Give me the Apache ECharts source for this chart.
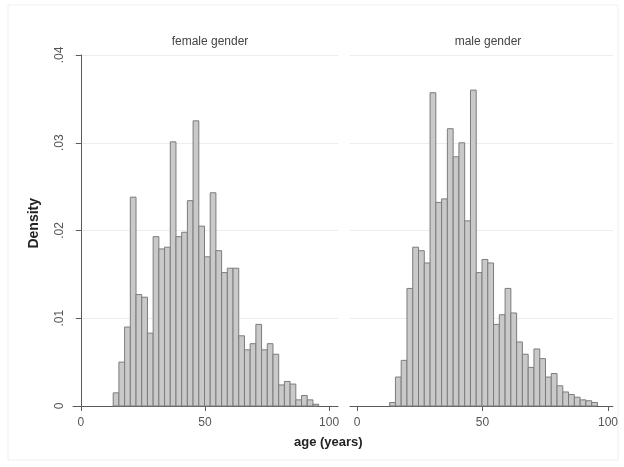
<!DOCTYPE html>
<html>
  <head>
    <meta charset="utf-8" />
    <script src="https://cdn.jsdelivr.net/npm/echarts@6.0.0/dist/echarts.min.js"></script>
  </head>
  <body style="margin: 0">
    <div id="main" style="width: 624px; height: 467px"></div>

    <script type="text/javascript">
      // histogram bins: 36 bins starting at age 13, width 2.3
      const binStart = 13;
      const binWidth = 2.3;
      const panelTitles = ["female gender", "male gender"];
      const xTicks = [0, 50, 100];

      const femaleDensity = [
        0.0015, 0.005, 0.009, 0.0238, 0.0127, 0.0124, 0.0083, 0.0193, 0.0179,
        0.0181, 0.0301, 0.0193, 0.0198, 0.0234, 0.0325, 0.0205, 0.017, 0.0243,
        0.0177, 0.0152, 0.0157, 0.0157, 0.008, 0.0064, 0.0071, 0.0093, 0.0064,
        0.0071, 0.0059, 0.0024, 0.0028, 0.0025, 0.0007, 0.0012, 0.0007, 0.0002,
      ];
      const maleDensity = [
        0.0004, 0.0033, 0.0052, 0.0134, 0.0181, 0.0177, 0.0163, 0.0357, 0.0232,
        0.0236, 0.0316, 0.0284, 0.03, 0.0211, 0.036, 0.0152, 0.0167, 0.0163,
        0.0093, 0.0104, 0.0134, 0.0106, 0.0073, 0.0059, 0.0044, 0.0065, 0.0054,
        0.0033, 0.0037, 0.0023, 0.0016, 0.0013, 0.001, 0.0007, 0.0006, 0.0004,
      ];

      function toBins(dens) {
        return dens.map((d, i) => [
          binStart + i * binWidth,
          binStart + (i + 1) * binWidth,
          d,
        ]);
      }

      function renderBar(params, api) {
        const a = api.coord([api.value(0), api.value(2)]);
        const b = api.coord([api.value(1), 0]);
        return {
          type: "rect",
          shape: { x: a[0], y: a[1], width: b[0] - a[0], height: b[1] - a[1] },
          style: { fill: "#c9c9c9", stroke: "#7c7c7c", lineWidth: 1 },
        };
      }

      const axisColor = "#5a5a5a";
      const font = "Liberation Sans";

      function xAxisFor(idx, min, max) {
        return {
          type: "value",
          gridIndex: idx,
          min: min,
          max: max,
          axisLine: { lineStyle: { color: axisColor, width: 1 } },
          axisTick: { customValues: xTicks, length: 5, lineStyle: { color: axisColor } },
          axisLabel: {
            customValues: xTicks,
            color: "#555",
            fontFamily: font,
            fontSize: 12,
            margin: 11,
          },
          splitLine: { show: false },
        };
      }

      function yAxisFor(idx, showAxis) {
        return {
          type: "value",
          gridIndex: idx,
          min: 0,
          max: 0.04,
          interval: 0.01,
          axisLine: { show: showAxis, lineStyle: { color: axisColor } },
          axisTick: { show: showAxis, length: 5, lineStyle: { color: axisColor } },
          axisLabel: {
            show: showAxis,
            rotate: 90,
            color: "#555",
            fontFamily: font,
            fontSize: 12,
            margin: 7,
            formatter: (v) => (v === 0 ? "0" : v.toFixed(2).replace(/^0/, "")),
          },
          splitLine: { show: true, lineStyle: { color: "#ededed", width: 1 } },
        };
      }

      var option = {
        backgroundColor: "#ffffff",
        animation: false,
        title: [
          {
            text: panelTitles[0],
            left: 205,
            top: 31,
            textAlign: "center",
            textStyle: { fontFamily: font, fontSize: 12, fontWeight: "normal", color: "#444" },
          },
          {
            text: panelTitles[1],
            left: 483,
            top: 31,
            textAlign: "center",
            textStyle: { fontFamily: font, fontSize: 12, fontWeight: "normal", color: "#444" },
          },
        ],
        graphic: [
          {
            type: "rect",
            shape: { x: 8, y: 5, width: 610, height: 455 },
            style: { fill: null, stroke: "#efefef", lineWidth: 1 },
            z: -1,
          },
          {
            type: "text",
            left: 27,
            top: 198,
            rotation: Math.PI / 2,
            style: {
              text: "Density",
              fontFamily: font,
              fontSize: 14,
              fontWeight: "bold",
              fill: "#222",
            },
          },
          {
            type: "text",
            left: 294,
            top: 436,
            style: {
              text: "age (years)",
              fontFamily: font,
              fontSize: 13,
              fontWeight: "bold",
              fill: "#222",
            },
          },
        ],
        grid: [
          { left: 73, right: 286, top: 55, bottom: 61 },
          { left: 350, right: 11, top: 55, bottom: 61 },
        ],
        xAxis: [xAxisFor(0, -3.2, 103.6), xAxisFor(1, -2.8, 102)],
        yAxis: [yAxisFor(0, true), yAxisFor(1, false)],
        series: [
          {
            name: panelTitles[0],
            type: "custom",
            xAxisIndex: 0,
            yAxisIndex: 0,
            renderItem: renderBar,
            data: toBins(femaleDensity),
          },
          {
            name: panelTitles[1],
            type: "custom",
            xAxisIndex: 1,
            yAxisIndex: 1,
            renderItem: renderBar,
            data: toBins(maleDensity),
          },
        ],
      };

      const myChart = echarts.init(document.getElementById("main"));
      myChart.setOption(option);
    </script>
  </body>
</html>
